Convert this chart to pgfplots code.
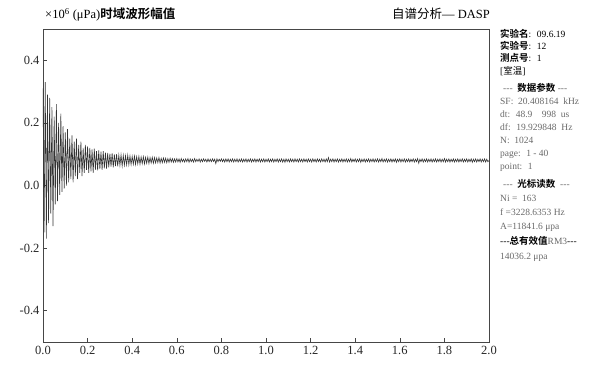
\documentclass[border=0pt]{standalone}
\usepackage{fontspec}
\setmainfont{Liberation Serif}
\newfontfamily\cjk{Noto Sans CJK SC}
\newfontfamily\cjkb{Noto Sans CJK SC Bold}
\usepackage{pgfplots}
\pgfplotsset{compat=1.18}
\definecolor{sig}{RGB}{50,50,50}
\definecolor{ax}{RGB}{70,70,70}
\definecolor{pg}{RGB}{105,105,105}
\newcommand{\dd}{{-}{-}{-}}
\begin{document}
\begin{tikzpicture}[x=1pt,y=1pt]
\useasboundingbox (-43,-30) rectangle (561,342);
\begin{axis}[at={(0,0)}, anchor=south west, scale only axis,
  width=446pt, height=313pt,
  xmin=0, xmax=2, ymin=-0.5, ymax=0.5,
  xtick={0,0.2,0.4,0.6,0.8,1.0,1.2,1.4,1.6,1.8,2.0},
  ytick={-0.4,-0.2,0,0.2,0.4},
  tick align=inside, xtick pos=bottom, ytick pos=left,
  major tick length=4pt,
  axis line style={color=ax, line width=0.8pt},
  tick style={color=ax, line width=0.6pt},
  ticklabel style={font=\fontsize{12.5}{14}\selectfont, text=black!85},
  xticklabel style={yshift=-1pt},
  /pgf/number format/.cd, fixed, fixed zerofill, precision=1, assume math mode=true]
\addplot[color=sig, line width=0.6pt, mark=none] table[header=false, x expr=\coordindex*0.005, y index=0, row sep=\\] {
0.31\\ -0.15\\ 0.33\\ -0.17\\ 0.29\\ -0.12\\ 0.28\\ -0.09\\ 0.25\\ -0.13\\
0.22\\ -0.06\\ 0.26\\ -0.05\\ 0.20\\ -0.03\\ 0.23\\ -0.02\\ 0.19\\ -0.01\\
0.17\\ 0.00\\ 0.18\\ 0.01\\ 0.15\\ 0.02\\ 0.16\\ 0.01\\ 0.14\\ 0.03\\
0.15\\ 0.02\\ 0.13\\ 0.04\\ 0.14\\ 0.03\\ 0.12\\ 0.04\\ 0.13\\ 0.05\\
0.125\\ 0.04\\ 0.12\\ 0.045\\ 0.115\\ 0.04\\ 0.118\\ 0.05\\ 0.11\\ 0.048\\
0.112\\ 0.052\\ 0.108\\ 0.05\\ 0.11\\ 0.055\\ 0.105\\ 0.054\\ 0.104\\ 0.058\\
0.102\\ 0.06\\ 0.103\\ 0.058\\ 0.099\\ 0.062\\ 0.1\\ 0.061\\ 0.097\\ 0.064\\
0.098\\ 0.062\\ 0.096\\ 0.065\\ 0.095\\ 0.066\\ 0.097\\ 0.066\\ 0.094\\ 0.067\\
0.093\\ 0.068\\ 0.094\\ 0.067\\ 0.092\\ 0.069\\ 0.093\\ 0.068\\ 0.091\\ 0.07\\
0.092\\ 0.069\\ 0.09\\ 0.071\\ 0.091\\ 0.07\\ 0.089\\ 0.072\\ 0.09\\ 0.071\\
0.089\\ 0.072\\ 0.088\\ 0.073\\ 0.089\\ 0.072\\ 0.087\\ 0.073\\ 0.088\\ 0.074\\
0.087\\ 0.073\\ 0.086\\ 0.074\\ 0.087\\ 0.075\\ 0.086\\ 0.074\\ 0.085\\ 0.075\\
0.086\\ 0.075\\ 0.085\\ 0.074\\ 0.086\\ 0.076\\ 0.084\\ 0.075\\ 0.085\\ 0.076\\
0.086\\ 0.074\\ 0.085\\ 0.076\\ 0.084\\ 0.075\\ 0.086\\ 0.076\\ 0.084\\ 0.077\\
0.085\\ 0.075\\ 0.084\\ 0.076\\ 0.085\\ 0.077\\ 0.084\\ 0.075\\ 0.085\\ 0.076\\
0.084\\ 0.076\\ 0.085\\ 0.077\\ 0.084\\ 0.070\\ 0.085\\ 0.076\\ 0.084\\ 0.077\\
0.085\\ 0.076\\ 0.084\\ 0.075\\ 0.085\\ 0.076\\ 0.085\\ 0.075\\ 0.084\\ 0.076\\
0.085\\ 0.075\\ 0.084\\ 0.076\\ 0.085\\ 0.075\\ 0.084\\ 0.076\\ 0.085\\ 0.075\\
0.084\\ 0.076\\ 0.085\\ 0.075\\ 0.084\\ 0.076\\ 0.085\\ 0.075\\ 0.084\\ 0.076\\
0.085\\ 0.075\\ 0.084\\ 0.076\\ 0.085\\ 0.075\\ 0.084\\ 0.076\\ 0.085\\ 0.075\\
0.084\\ 0.076\\ 0.085\\ 0.075\\ 0.084\\ 0.076\\ 0.085\\ 0.075\\ 0.084\\ 0.076\\
0.085\\ 0.075\\ 0.084\\ 0.076\\ 0.085\\ 0.075\\ 0.084\\ 0.074\\ 0.085\\ 0.076\\
0.084\\ 0.075\\ 0.085\\ 0.076\\ 0.084\\ 0.075\\ 0.085\\ 0.076\\ 0.084\\ 0.075\\
0.085\\ 0.076\\ 0.084\\ 0.075\\ 0.085\\ 0.076\\ 0.084\\ 0.075\\ 0.085\\ 0.076\\
0.084\\ 0.075\\ 0.085\\ 0.076\\ 0.084\\ 0.075\\ 0.085\\ 0.076\\ 0.084\\ 0.075\\
0.085\\ 0.076\\ 0.084\\ 0.075\\ 0.085\\ 0.076\\ 0.089\\ 0.075\\ 0.084\\ 0.076\\
0.085\\ 0.075\\ 0.084\\ 0.076\\ 0.085\\ 0.075\\ 0.084\\ 0.076\\ 0.085\\ 0.075\\
0.084\\ 0.076\\ 0.085\\ 0.075\\ 0.084\\ 0.076\\ 0.086\\ 0.075\\ 0.084\\ 0.076\\
0.085\\ 0.075\\ 0.084\\ 0.076\\ 0.085\\ 0.074\\ 0.084\\ 0.076\\ 0.085\\ 0.075\\
0.084\\ 0.076\\ 0.085\\ 0.075\\ 0.084\\ 0.076\\ 0.085\\ 0.075\\ 0.084\\ 0.076\\
0.085\\ 0.075\\ 0.084\\ 0.076\\ 0.086\\ 0.075\\ 0.084\\ 0.076\\ 0.085\\ 0.075\\
0.084\\ 0.076\\ 0.085\\ 0.075\\ 0.084\\ 0.076\\ 0.085\\ 0.074\\ 0.084\\ 0.076\\
0.085\\ 0.075\\ 0.084\\ 0.076\\ 0.085\\ 0.075\\ 0.084\\ 0.076\\ 0.085\\ 0.075\\
0.084\\ 0.076\\ 0.085\\ 0.075\\ 0.084\\ 0.076\\ 0.086\\ 0.071\\ 0.084\\ 0.076\\
0.085\\ 0.075\\ 0.084\\ 0.076\\ 0.085\\ 0.075\\ 0.084\\ 0.076\\ 0.085\\ 0.075\\
0.084\\ 0.076\\ 0.085\\ 0.075\\ 0.084\\ 0.076\\ 0.085\\ 0.075\\ 0.084\\ 0.076\\
0.086\\ 0.075\\ 0.084\\ 0.076\\ 0.085\\ 0.075\\ 0.084\\ 0.076\\ 0.085\\ 0.075\\
0.084\\ 0.076\\ 0.085\\ 0.075\\ 0.084\\ 0.076\\ 0.085\\ 0.075\\ 0.084\\ 0.076\\
0.085\\ 0.075\\ 0.084\\ 0.076\\ 0.085\\ 0.074\\ 0.084\\ 0.076\\ 0.085\\ 0.075\\
0.084\\ 0.076\\ 0.085\\ 0.075\\ 0.084\\ 0.076\\ 0.085\\ 0.075\\ 0.084\\ 0.076\\
0.08\\
};
\end{axis}
% titles
\node[anchor=base west, inner sep=0pt, font=\fontsize{12.5}{14}\selectfont] at (2,323)
  {×10\textsuperscript{6} (μPa)\cjkb 时域波形幅值};
\node[anchor=base east, inner sep=0pt, font=\fontsize{12.5}{14}\selectfont] at (447,323)
  {{\cjk 自谱分析}— DASP};
% side panel
\begin{scope}[every node/.style={anchor=base west, inner sep=0pt, font=\fontsize{9.5}{11}\selectfont}]
\node at (457,304) {{\cjkb 实验名}: \ 09.6.19};
\node at (457,292) {{\cjkb 实验号}: \ 12};
\node at (457,280) {{\cjkb 测点号}: \ 1};
\node at (457,267) {[{\cjk 室温}]};
\node at (460,250) {\textcolor{pg}{\dd} \ {\cjkb 数据参数} \textcolor{pg}{\dd}};
\node[text=pg] at (457,237) {SF: \ 20.408164 \ kHz};
\node[text=pg] at (457,224) {dt: \ 48.9 \ \ \ 998 \ us};
\node[text=pg] at (457,211) {df: \ 19.929848 \ Hz};
\node[text=pg] at (457,198) {N: \ 1024};
\node[text=pg] at (457,185) {page: \ 1 - 40};
\node[text=pg] at (457,172) {point: \ 1};
\node at (460,154) {\textcolor{pg}{\dd} \ {\cjkb 光标读数} \ \textcolor{pg}{\dd}};
\node[text=pg] at (457,140) {Ni = \ 163};
\node[text=pg] at (457,126) {f =3228.6353 Hz};
\node[text=pg] at (457,112) {A=11841.6 μpa};
\node at (457,97) {\dd{\cjkb 总有效值}\textcolor{pg}{RM3}\dd};
\node[text=pg] at (457,82) {14036.2 μpa};
\end{scope}
\end{tikzpicture}
\end{document}
